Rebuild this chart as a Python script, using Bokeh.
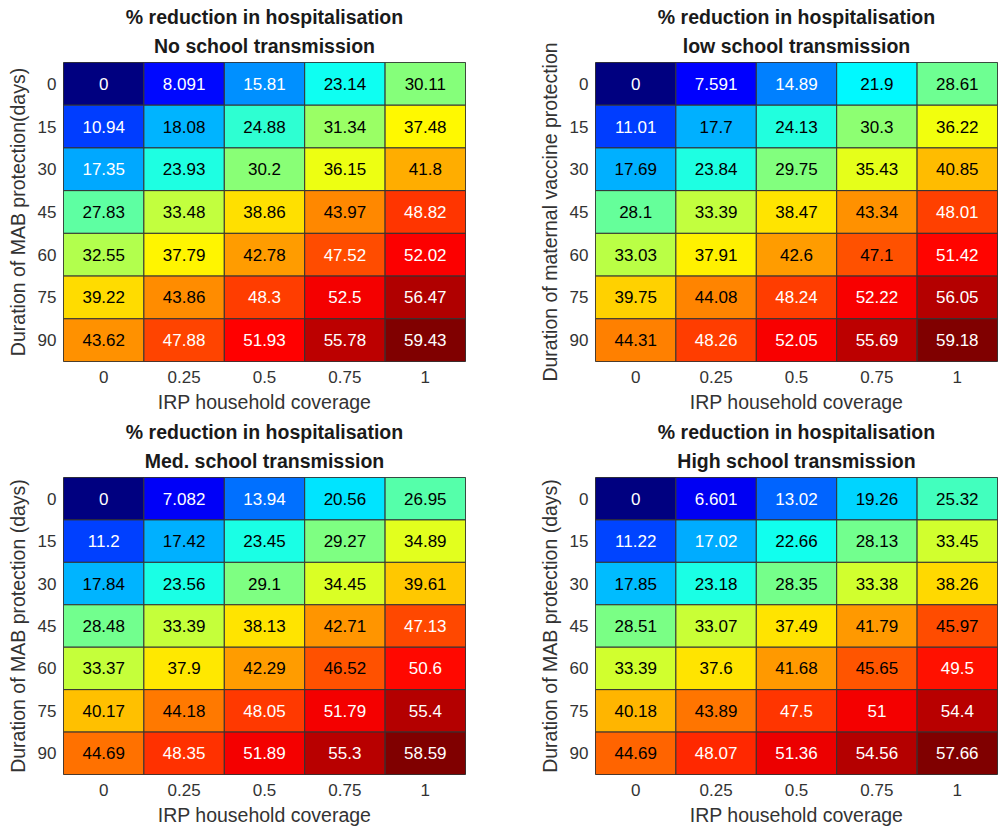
import numpy as np
from bokeh.plotting import figure
from bokeh.models import ColumnDataSource, LinearColorMapper, Title, FactorRange
from bokeh.layouts import row, column
from bokeh.transform import transform
from bokeh.core.properties import value
from bokeh.embed import file_html
from bokeh.resources import INLINE

# ---------------- data ----------------
x_labels = ["0", "0.25", "0.5", "0.75", "1"]
y_labels = ["0", "15", "30", "45", "60", "75", "90"]

no_school = [
    [0, 8.091, 15.81, 23.14, 30.11],
    [10.94, 18.08, 24.88, 31.34, 37.48],
    [17.35, 23.93, 30.2, 36.15, 41.8],
    [27.83, 33.48, 38.86, 43.97, 48.82],
    [32.55, 37.79, 42.78, 47.52, 52.02],
    [39.22, 43.86, 48.3, 52.5, 56.47],
    [43.62, 47.88, 51.93, 55.78, 59.43],
]
low_school = [
    [0, 7.591, 14.89, 21.9, 28.61],
    [11.01, 17.7, 24.13, 30.3, 36.22],
    [17.69, 23.84, 29.75, 35.43, 40.85],
    [28.1, 33.39, 38.47, 43.34, 48.01],
    [33.03, 37.91, 42.6, 47.1, 51.42],
    [39.75, 44.08, 48.24, 52.22, 56.05],
    [44.31, 48.26, 52.05, 55.69, 59.18],
]
med_school = [
    [0, 7.082, 13.94, 20.56, 26.95],
    [11.2, 17.42, 23.45, 29.27, 34.89],
    [17.84, 23.56, 29.1, 34.45, 39.61],
    [28.48, 33.39, 38.13, 42.71, 47.13],
    [33.37, 37.9, 42.29, 46.52, 50.6],
    [40.17, 44.18, 48.05, 51.79, 55.4],
    [44.69, 48.35, 51.89, 55.3, 58.59],
]
high_school = [
    [0, 6.601, 13.02, 19.26, 25.32],
    [11.22, 17.02, 22.66, 28.13, 33.45],
    [17.85, 23.18, 28.35, 33.38, 38.26],
    [28.51, 33.07, 37.49, 41.79, 45.97],
    [33.39, 37.6, 41.68, 45.65, 49.5],
    [40.18, 43.89, 47.5, 51, 54.4],
    [44.69, 48.07, 51.36, 54.56, 57.66],
]

main_title = "% reduction in hospitalisation"
subtitles = ["No school transmission", "low school transmission",
             "Med. school transmission", "High school transmission"]
y_titles = ["Duration of MAB protection(days)", "Duration of maternal vaccine protection",
            "Duration of MAB protection (days)", "Duration of MAB protection (days)"]
x_title = "IRP household coverage"

# ---------------- styling helpers ----------------
FONT = "Liberation Sans"


def jet_rgb(t):
    r = min(max(1.5 - abs(4 * t - 3), 0), 1)
    g = min(max(1.5 - abs(4 * t - 2), 0), 1)
    b = min(max(1.5 - abs(4 * t - 1), 0), 1)
    return r, g, b


def to_hex(rgb):
    return "#%02x%02x%02x" % tuple(int(round(c * 255)) for c in rgb)


jet_palette = [to_hex(jet_rgb(t)) for t in np.linspace(0, 1, 256)]


def make_panel(vals, subtitle, ytitle, fw, fh, left, right, top, bottom):
    flat = [v for r in vals for v in r]
    lo, hi = min(flat), max(flat)
    xs, ys, vs, txt, tcol = [], [], [], [], []
    for i, yl in enumerate(y_labels):
        for j, xl in enumerate(x_labels):
            v = vals[i][j]
            xs.append(xl)
            ys.append(yl)
            vs.append(v)
            txt.append("{:.4g}".format(v))
            r, g, b = jet_rgb((v - lo) / (hi - lo))
            lum = 0.334 * r + 0.587 * g + 0.114 * b
            tcol.append("#ffffff" if lum < 0.516 else "#000000")
    src = ColumnDataSource(dict(x=xs, y=ys, v=vs, t=txt, c=tcol))
    mapper = LinearColorMapper(palette=jet_palette, low=lo, high=hi)

    p = figure(x_range=FactorRange(*x_labels), y_range=FactorRange(*reversed(y_labels)),
               frame_width=fw, frame_height=fh, min_border_left=left, min_border_right=right,
               min_border_top=top, min_border_bottom=bottom,
               toolbar_location=None, tools="", output_backend="svg", title=None)
    p.rect(x="x", y="y", width=1, height=1, source=src,
           fill_color=transform("v", mapper), line_color="#333333", line_width=1)
    p.text(x="x", y="y", text="t", source=src, text_align="center", text_baseline="middle",
           text_color="c", text_font=value(FONT), text_font_size="17px")

    p.add_layout(Title(text=subtitle, align="center", text_font=FONT, text_font_size="19.5px",
                       text_font_style="bold", text_color="#1a1a1a", standoff=11), "above")
    p.add_layout(Title(text=main_title, align="center", text_font=FONT, text_font_size="19.5px",
                       text_font_style="bold", text_color="#1a1a1a", standoff=0), "above")

    p.grid.visible = False
    p.outline_line_color = "#333333"
    p.outline_line_width = 1
    p.background_fill_color = "white"
    p.border_fill_color = "white"
    for ax in (p.xaxis, p.yaxis):
        ax.axis_line_color = None
        ax.major_tick_line_color = None
        ax.minor_tick_line_color = None
        ax.major_tick_out = 0
        ax.major_tick_in = 0
        ax.minor_tick_out = 0
        ax.minor_tick_in = 0
        ax.major_label_text_font = FONT
        ax.major_label_text_font_size = "17px"
        ax.major_label_text_color = "#333333"
        ax.axis_label_text_font = FONT
        ax.axis_label_text_font_size = "19.5px"
        ax.axis_label_text_font_style = "normal"
        ax.axis_label_text_color = "#333333"
    p.xaxis.major_label_standoff = 9
    p.xaxis.axis_label_standoff = 5
    p.yaxis.major_label_standoff = 7
    p.yaxis.axis_label_standoff = 6
    p.xaxis.axis_label = x_title
    p.yaxis.axis_label = ytitle
    p.yaxis.major_label_orientation = "horizontal"
    return p


p1 = make_panel(no_school, subtitles[0], y_titles[0], 402, 299, 63, 67, 62, 56)
p2 = make_panel(low_school, subtitles[1], y_titles[1], 402, 299, 63, 1, 62, 56)
p3 = make_panel(med_school, subtitles[2], y_titles[2], 402, 297, 63, 67, 60, 56)
p4 = make_panel(high_school, subtitles[3], y_titles[3], 402, 297, 63, 1, 60, 56)

layout = column(row(p1, p2), row(p3, p4))

open("out.html", "w").write(file_html(layout, INLINE))
